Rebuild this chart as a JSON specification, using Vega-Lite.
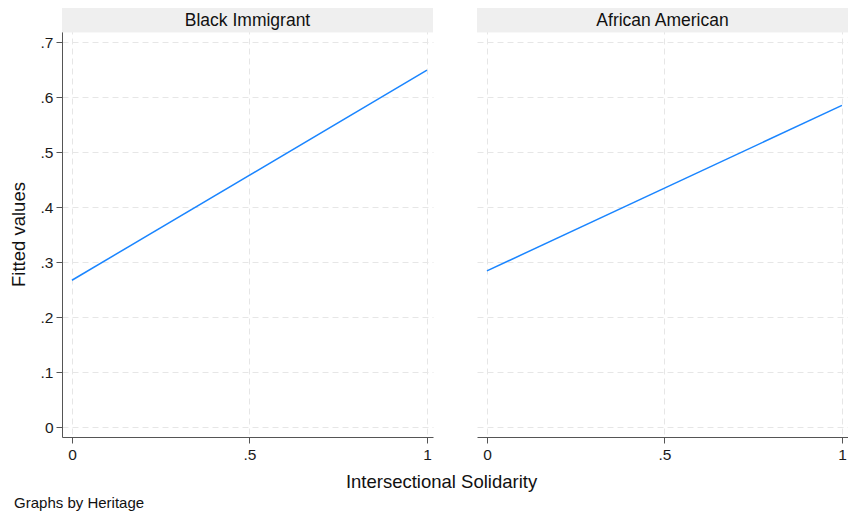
{
  "$schema": "https://vega.github.io/schema/vega-lite/v6.json",
  "padding": {"left": 9, "top": 8, "right": 0, "bottom": 0},
  "background": "white",
  "bounds": "flush",
  "data": {"values": [
    {"Heritage": "Black Immigrant", "solidarity": 0, "fitted": 0.267},
    {"Heritage": "Black Immigrant", "solidarity": 1, "fitted": 0.649},
    {"Heritage": "African American", "solidarity": 0, "fitted": 0.284},
    {"Heritage": "African American", "solidarity": 1, "fitted": 0.585}
  ]},
  "title": {"text": "Graphs by Heritage", "orient": "bottom", "anchor": "start", "frame": "bounds", "fontSize": 15, "fontWeight": "normal", "font": "Liberation Sans", "color": "#111", "dx": 5, "offset": 5},
  "spacing": 44,
  "hconcat": [
    {
      "width": 371,
      "height": 429,
      "transform": [{"filter": "datum.Heritage == 'Black Immigrant'"}],
      "layer": [
        {
          "mark": {"type": "rect", "fill": "#efefef"},
          "encoding": {"y": {"datum": 0.718, "type": "quantitative", "scale": {"domain": [-0.018, 0.762], "nice": false, "zero": false}}, "y2": {"datum": 0.762}}
        },
        {
          "mark": {"type": "text", "fontSize": 17.5, "font": "Liberation Sans", "color": "#111", "baseline": "middle", "align": "center"},
          "transform": [{"filter": "datum.solidarity == 0"}],
          "encoding": {"y": {"datum": 0.738, "type": "quantitative"}, "text": {"field": "Heritage"}}
        },
        {
          "mark": {"type": "line", "stroke": "#1a85ff", "strokeWidth": 1.5},
          "encoding": {
            "x": {"field": "solidarity", "type": "quantitative", "scale": {"domain": [-0.028, 1.017], "nice": false, "zero": false},
              "axis": {"values": [0, 0.5, 1], "title": "Intersectional Solidarity", "titleX": 379, "labelExpr": "datum.value == floor(datum.value) ? format(datum.value, 'd') : substring(format(datum.value, '.1f'), 1)", "grid": true, "gridDash": [6, 4], "gridColor": "#e6e6e6", "domainColor": "#555", "tickColor": "#555", "tickSize": 6, "labelFontSize": 15.5, "labelColor": "#1a1a1a", "labelPadding": 4, "titleFontSize": 18.5, "titleFontWeight": "normal", "titleColor": "#111", "titlePadding": 10, "labelFont": "Liberation Sans", "titleFont": "Liberation Sans"}},
            "y": {"field": "fitted", "type": "quantitative", "scale": {"domain": [-0.018, 0.762], "nice": false, "zero": false},
              "axis": {"values": [0, 0.1, 0.2, 0.3, 0.4, 0.5, 0.6, 0.7], "title": "Fitted values", "labelExpr": "datum.value == 0 ? '0' : substring(format(datum.value, '.1f'), 1)", "grid": true, "gridDash": [6, 4], "gridColor": "#e6e6e6", "domainColor": "#555", "tickColor": "#555", "tickSize": 6, "labelFontSize": 15.5, "labelColor": "#1a1a1a", "labelPadding": 3, "titleFontSize": 18.5, "titleFontWeight": "normal", "titleColor": "#111", "titlePadding": 12, "titleY": 226, "labelFont": "Liberation Sans", "titleFont": "Liberation Sans"}}
          }
        }
      ]
    },
    {
      "width": 371,
      "height": 429,
      "transform": [{"filter": "datum.Heritage == 'African American'"}],
      "layer": [
        {
          "mark": {"type": "rect", "fill": "#efefef"},
          "encoding": {"y": {"datum": 0.718, "type": "quantitative", "scale": {"domain": [-0.018, 0.762], "nice": false, "zero": false}}, "y2": {"datum": 0.762}}
        },
        {
          "mark": {"type": "text", "fontSize": 17.5, "font": "Liberation Sans", "color": "#111", "baseline": "middle", "align": "center"},
          "transform": [{"filter": "datum.solidarity == 0"}],
          "encoding": {"y": {"datum": 0.738, "type": "quantitative"}, "text": {"field": "Heritage"}}
        },
        {
          "mark": {"type": "line", "stroke": "#1a85ff", "strokeWidth": 1.5},
          "encoding": {
            "x": {"field": "solidarity", "type": "quantitative", "scale": {"domain": [-0.028, 1.017], "nice": false, "zero": false},
              "axis": {"values": [0, 0.5, 1], "title": null, "labelExpr": "datum.value == floor(datum.value) ? format(datum.value, 'd') : substring(format(datum.value, '.1f'), 1)", "grid": true, "gridDash": [6, 4], "gridColor": "#e6e6e6", "domainColor": "#555", "tickColor": "#555", "tickSize": 6, "labelFontSize": 15.5, "labelColor": "#1a1a1a", "labelPadding": 4, "labelFont": "Liberation Sans"}},
            "y": {"field": "fitted", "type": "quantitative", "scale": {"domain": [-0.018, 0.762], "nice": false, "zero": false},
              "axis": {"values": [0, 0.1, 0.2, 0.3, 0.4, 0.5, 0.6, 0.7], "title": null, "labels": false, "ticks": false, "domain": false, "grid": true, "gridDash": [6, 4], "gridColor": "#e6e6e6"}}
          }
        }
      ]
    }
  ],
  "config": {"view": {"stroke": null}}
}
